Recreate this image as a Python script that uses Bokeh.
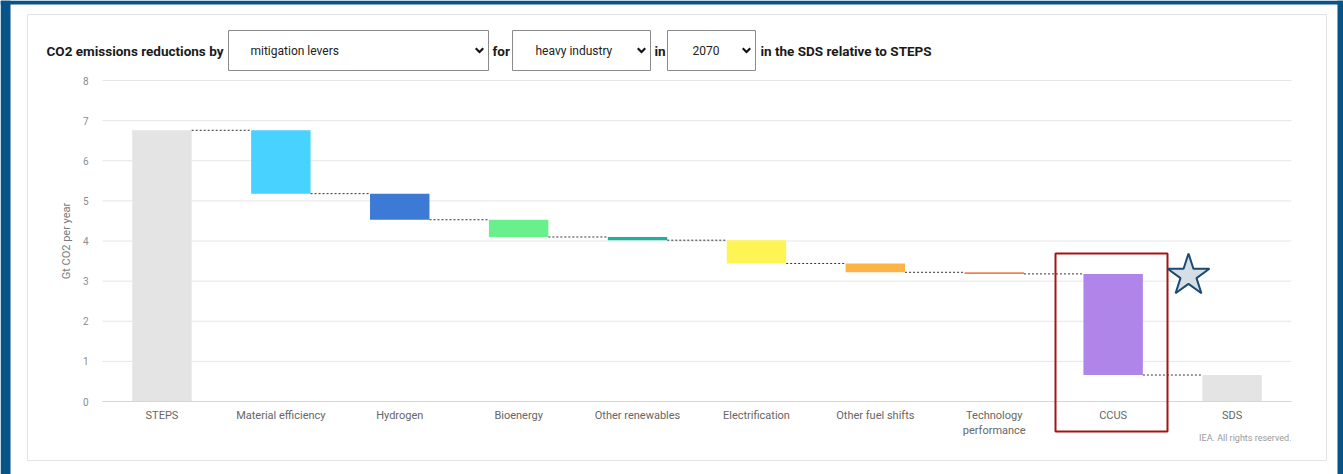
import math

from bokeh.embed import file_html
from bokeh.models import BoxAnnotation, ColumnDataSource, FixedTicker, Label, Range1d
from bokeh.plotting import figure
from bokeh.resources import INLINE

# ---- data -------------------------------------------------------------
categories = ["STEPS", "Material efficiency", "Hydrogen", "Bioenergy",
              "Other renewables", "Electrification", "Other fuel shifts",
              "Technology\nperformance", "CCUS", "SDS"]
steps_total = 6.76          # Gt CO2 per year, STEPS 2070
reductions = [1.58, 0.65, 0.43, 0.08, 0.58, 0.22, 0.04, 2.52]
sds_total = 0.66
bar_colors = ["#e4e4e4", "#48d2ff", "#3d7ad6", "#68f08c", "#1bb3a0",
              "#fef455", "#fdb446", "#f0805a", "#b085ea", "#e4e4e4"]
y_ticks = [0, 1, 2, 3, 4, 5, 6, 7, 8]

# ---- waterfall geometry from the values ------------------------------
positions = list(range(len(categories)))
tops, bottoms = [steps_total], [0.0]
level = steps_total
for r in reductions:
    tops.append(level)
    level = round(level - r, 4)
    bottoms.append(level)
tops.append(sds_total)
bottoms.append(0.0)

bars = ColumnDataSource(dict(x=positions, top=tops, bottom=bottoms, color=bar_colors))

BAR_W = 0.5
conn_levels = [steps_total] + bottoms[1:-1]
connectors = ColumnDataSource(dict(
    x0=[i + BAR_W / 2 for i in positions[:-1]],
    x1=[i + 1 - BAR_W / 2 for i in positions[:-1]],
    level=conn_levels))

# ---- canvas layout: the plot frame fills the whole canvas, the chart
# area sits at these pixel bounds and the axes are pinned to its edges
FONT = "Roboto"
W, H = 1343, 474
AREA_L, AREA_R, AREA_T, AREA_B = 102, 1291, 80, 401
x_lo, x_hi = -0.5, len(categories) - 0.5
y_lo, y_hi = 0, 8
ppx = (AREA_R - AREA_L) / (x_hi - x_lo)
ppy = (AREA_B - AREA_T) / (y_hi - y_lo)

p = figure(width=W, height=H,
           x_range=Range1d(x_lo - AREA_L / ppx, x_hi + (W - AREA_R) / ppx),
           y_range=Range1d(y_lo - (H - AREA_B) / ppy, y_hi + AREA_T / ppy),
           output_backend="svg", toolbar_location=None, tools="",
           min_border=0, background_fill_color="white", border_fill_color="white",
           outline_line_color=None)

# pixel ranges (origin top-left) for the page furniture
p.extra_x_ranges = {"px": Range1d(0, W)}
p.extra_y_ranges = {"py": Range1d(H, 0)}

# ---- axes & grid -----------------------------------------------------
p.xgrid.visible = False
p.ygrid.visible = False
p.segment(x0=x_lo, x1=x_hi, y0=y_ticks, y1=y_ticks,
          line_color="#e6e6e6", line_width=1, level="underlay")

p.yaxis.fixed_location = x_lo
p.yaxis.bounds = (y_lo, y_hi)
p.yaxis.ticker = FixedTicker(ticks=y_ticks)
p.yaxis.axis_line_color = None
p.yaxis.major_tick_line_color = None
p.yaxis.minor_tick_line_color = None
p.yaxis.major_label_text_color = "#8c8c8c"
p.yaxis.major_label_text_font = FONT
p.yaxis.major_label_text_font_size = "10px"
p.yaxis.major_label_standoff = 8
p.yaxis.axis_label = "Gt CO2 per year"
p.yaxis.axis_label_text_font = FONT
p.yaxis.axis_label_text_font_size = "11px"
p.yaxis.axis_label_text_font_style = "normal"
p.yaxis.axis_label_text_color = "#7a7a7a"
p.yaxis.axis_label_standoff = 7

p.xaxis.fixed_location = y_lo
p.xaxis.bounds = (x_lo, x_hi)
p.xaxis.ticker = FixedTicker(ticks=positions)
p.xaxis.major_label_overrides = {i: c for i, c in zip(positions, categories)}
p.xaxis.axis_line_color = "#ccd6eb"
p.xaxis.major_tick_line_color = None
p.xaxis.minor_tick_line_color = None
p.xaxis.major_label_text_color = "#666666"
p.xaxis.major_label_text_font = FONT
p.xaxis.major_label_text_font_size = "11px"
p.xaxis.major_label_standoff = 1

# ---- waterfall bars and dotted connectors ---------------------------
p.vbar(x="x", top="top", bottom="bottom", width=BAR_W,
       fill_color="color", line_color=None, source=bars)
p.segment(x0="x0", y0="level", x1="x1", y1="level",
          line_color="#333333", line_width=1, line_dash="2 2", source=connectors)

# ---- page furniture (pixel coordinates) -------------------------------
def box(left, right, top, bottom, fill=None, line=None, lw=1):
    p.add_layout(BoxAnnotation(left=left, right=right, top=top, bottom=bottom,
                               x_range_name="px", y_range_name="py",
                               fill_color=fill, fill_alpha=1 if fill else 0,
                               line_color=line, line_alpha=1 if line else 0,
                               line_width=lw))

def text(x, y, s, size="12px", style="normal", color="#222222", align="left"):
    p.add_layout(Label(x=x, y=y, text=s, x_range_name="px", y_range_name="py",
                       text_font=FONT, text_font_size=size, text_font_style=style,
                       text_color=color, text_align=align, text_baseline="middle"))

BLUE = "#075488"
box(0, 10, 0, H, fill=BLUE)
box(W - 6, W, 0, H, fill=BLUE)
box(0, W, 0, 4, fill=BLUE)
box(27, 1326, 14, 460, line="#e3e3e3")

# selector row
for l, r in [(228, 488), (512, 650), (667, 755)]:
    box(l, r, 30, 70, fill="white", line="#8a8a8a")

HEAD = "13.5px"
text(46, 50, "CO2 emissions reductions by", size=HEAD, style="bold", color="#1a1a1a")
text(250, 50, "mitigation levers")
text(492, 50, "for", size=HEAD, style="bold", color="#1a1a1a")
text(535, 50, "heavy industry")
text(654, 50, "in", size=HEAD, style="bold", color="#1a1a1a")
text(692, 50, "2070")
text(760, 50, "in the SDS relative to STEPS", size=HEAD, style="bold", color="#1a1a1a")

# dropdown chevrons, drawn above the selector boxes
chev_xs, chev_ys = [], []
for cx in [479, 641, 746]:
    chev_xs.append([cx - 4.5, cx - 3, cx, cx + 3, cx + 4.5, cx])
    chev_ys.append([48.5, 47, 50, 47, 48.5, 53])
p.patches(chev_xs, chev_ys, x_range_name="px", y_range_name="py",
          fill_color="#111111", line_color=None, level="overlay")

text(1291, 437, "IEA. All rights reserved.", size="9px", color="#9a9a9a", align="right")

# highlight frame around CCUS and star beside it
box(1055, 1167, 253, 431, line="#a31515", lw=2)

cx, cy, R, r = 1188, 275, 22, 8.4
star_x, star_y = [], []
for k in range(10):
    ang = math.radians(-90 + 36 * k)
    rad = R if k % 2 == 0 else r
    star_x.append(cx + rad * math.cos(ang))
    star_y.append(cy + rad * math.sin(ang))
p.patch(star_x, star_y, x_range_name="px", y_range_name="py",
        fill_color="#d5dde5", line_color="#1b4a72", line_width=2, level="overlay")

open("out.html", "w").write(file_html(p, INLINE))
